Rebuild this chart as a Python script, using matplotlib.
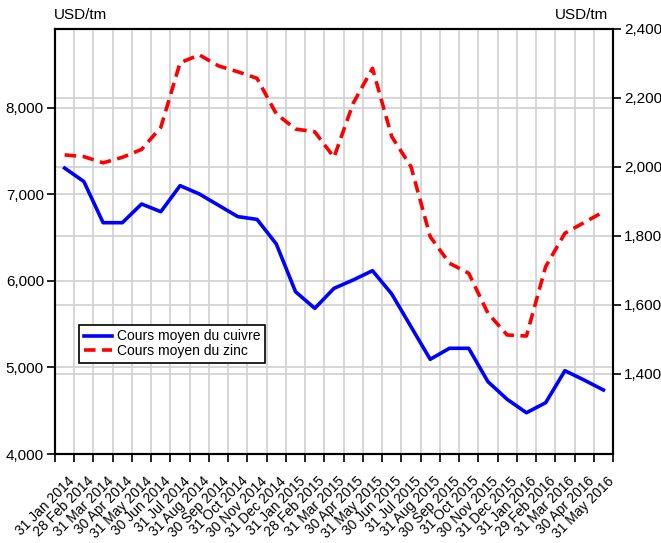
import matplotlib
matplotlib.use('Agg')
import matplotlib.pyplot as plt
import matplotlib.transforms as mtransforms
from matplotlib.ticker import FuncFormatter

plt.rcParams['font.family'] = ['Liberation Sans', 'DejaVu Sans']

dates = ['31 Jan 2014', '28 Feb 2014', '31 Mar 2014', '30 Apr 2014', '31 May 2014',
         '30 Jun 2014', '31 Jul 2014', '31 Aug 2014', '30 Sep 2014', '31 Oct 2014',
         '30 Nov 2014', '31 Dec 2014', '31 Jan 2015', '28 Feb 2015', '31 Mar 2015',
         '30 Apr 2015', '31 May 2015', '30 Jun 2015', '31 Jul 2015', '31 Aug 2015',
         '30 Sep 2015', '31 Oct 2015', '30 Nov 2015', '31 Dec 2015', '31 Jan 2016',
         '29 Feb 2016', '31 Mar 2016', '30 Apr 2016', '31 May 2016']

# cuivre (axe gauche) et zinc (axe droit), USD/tm
cuivre = [7305, 7150, 6674, 6674, 6890, 6801, 7102, 7006, 6875, 6744,
          6712, 6428, 5876, 5684, 5915, 6012, 6119, 5850, 5472, 5095,
          5222, 5222, 4836, 4632, 4477, 4593, 4963, 4855, 4740]
zinc = [2035, 2030, 2012, 2028, 2051, 2115, 2302, 2325, 2293, 2276,
        2257, 2154, 2110, 2102, 2028, 2185, 2286, 2088, 2001, 1798,
        1721, 1692, 1576, 1513, 1510, 1711, 1808, 1839, 1870]

left_ticks = [4000, 5000, 6000, 7000, 8000]
right_ticks = [1400, 1600, 1800, 2000, 2200, 2400]

fig = plt.figure(figsize=(6.61, 5.43), dpi=100)
ax = fig.add_axes([0.0832, 0.1639, 0.8442, 0.7827])
ax2 = ax.twinx()
ax.set_zorder(ax2.get_zorder() + 1)
ax.patch.set_visible(False)

n = len(dates)
x = list(range(n))
ax.set_xlim(-0.5, n - 0.5)
ax.set_ylim(4000, 8913)
ax2.set_ylim(1168, 2400)

gcol = '#d0d0d0'
ax.set_xticks(x)
ax.set_xticklabels(dates, rotation=45, ha='right', va='center', rotation_mode='anchor')
ax.set_xticks([i - 0.5 for i in range(n + 1)], minor=True)
ax.tick_params(axis='x', which='major', length=0, pad=18, labelsize=10)
ax.tick_params(axis='x', which='minor', length=6, width=1.2, direction='out')
ax.grid(True, axis='x', which='minor', color=gcol, lw=1.2)
off = mtransforms.ScaledTranslation(8 / 100, 0, fig.dpi_scale_trans)
for lab in ax.get_xticklabels():
    lab.set_transform(lab.get_transform() + off)

ax.set_yticks(left_ticks)
ax.yaxis.set_major_formatter(FuncFormatter(lambda v, p: f'{v:,.0f}'))
ax.tick_params(axis='y', length=6, width=1.2, pad=2, labelsize=11)
ax.grid(True, axis='y', which='major', color=gcol, lw=1.2)
ax.set_axisbelow(True)

ax2.set_yticks(right_ticks)
ax2.yaxis.set_major_formatter(FuncFormatter(lambda v, p: f'{v:,.0f}'))
ax2.tick_params(axis='y', length=6, width=1.2, pad=2, labelsize=11)
ax2.grid(True, axis='y', color=gcol, lw=1.2)
ax2.tick_params(axis='x', which='both', length=0, labelbottom=False)

for a in (ax, ax2):
    for s in a.spines.values():
        s.set_linewidth(1.5)
        s.set_color('black')

ax.plot(x, cuivre, color='#0000ff', lw=2.6, label='Cours moyen du cuivre', zorder=3)
ax.plot(x, zinc, color='#ff0000', lw=2.6, dashes=(3.2, 1.8), label='Cours moyen du zinc',
        transform=ax2.transData, zorder=3)
ax.set_ylim(4000, 8913)

leg = ax.legend(loc='lower left', bbox_to_anchor=(0.0435, 0.214), fontsize=10,
                frameon=True, fancybox=False, framealpha=1, edgecolor='black',
                handlelength=2.0, handletextpad=0.35, borderpad=0.35, labelspacing=0.05,
                borderaxespad=0.0)
leg.get_frame().set_linewidth(1.2)

fig.text(0.082, 0.972, 'USD/tm', fontsize=11, ha='left', va='center')
fig.text(0.92, 0.972, 'USD/tm', fontsize=11, ha='right', va='center')

fig.savefig('out.png', dpi=100)
